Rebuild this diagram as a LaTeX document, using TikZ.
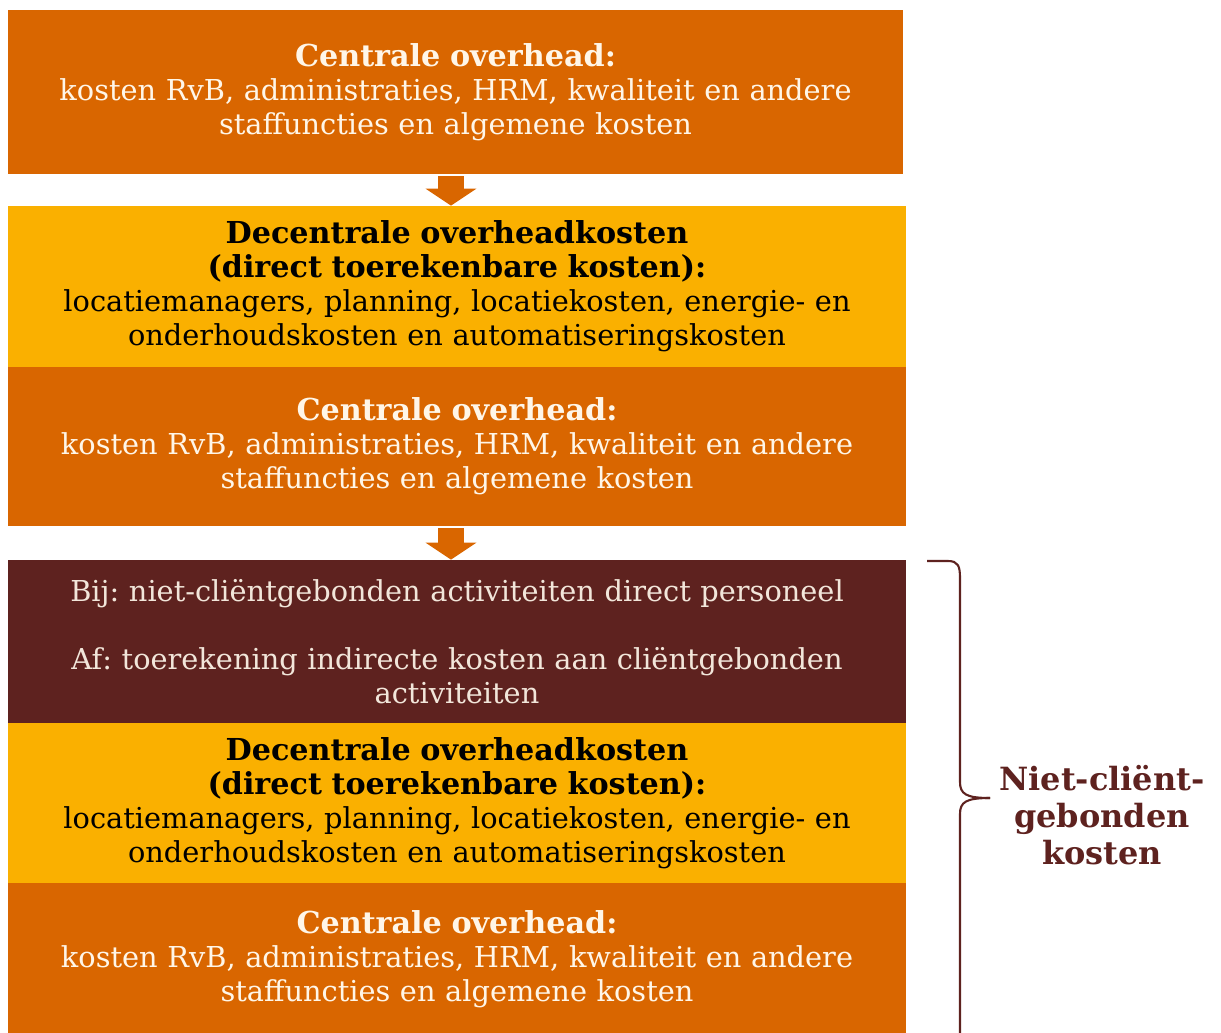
\documentclass[tikz,border=0pt]{standalone}
\usepackage{fontspec}
\setmainfont{DejaVu Serif}
\usepackage{tikz}
\usetikzlibrary{arrows.meta}
\definecolor{ovorange}{RGB}{217,102,0}
\definecolor{ovyellow}{RGB}{250,176,0}
\definecolor{ovbrown}{RGB}{94,34,31}
\definecolor{ovcream}{RGB}{255,246,232}
\definecolor{ovpink}{RGB}{242,230,218}
\newcommand{\headtxt}[1]{{\fontsize{17.2}{19.4}\bfseries #1}}
\frenchspacing

\begin{document}
\begin{tikzpicture}[x=0.02cm, y=-0.02cm,
  costbox/.style={inner sep=0pt, minimum width=17.96cm, text width=17.8cm,
    align=center, font=\fontsize{16.4}{19.4}\selectfont},
  centralbox/.style={costbox, fill=ovorange, text=ovcream},
  decentralbox/.style={costbox, fill=ovyellow, text=black},
  extrabox/.style={costbox, fill=ovbrown, text=ovpink},
  flowarr/.style={draw=ovorange, line width=0.52cm, shorten <=0.04cm,
    -{Triangle[length=0.34cm, width=1cm]}},
  bracepen/.style={draw=ovbrown, line width=1.2pt}]
\useasboundingbox (0,0) rectangle (1221,1032);
% Nodes
\node[centralbox, minimum width=17.9cm, minimum height=3.28cm] (c1) at (455.5,92)
  {\headtxt{Centrale overhead:}\\kosten RvB, administraties, HRM, kwaliteit en andere\\staffuncties en algemene kosten};
\node[decentralbox, minimum height=3.22cm] (d2) at (457,286.5)
  {\headtxt{Decentrale overheadkosten}\\\headtxt{(direct toerekenbare kosten):}\\locatiemanagers, planning, locatiekosten, energie- en\\onderhoudskosten en automatiseringskosten};
\node[centralbox, minimum height=3.18cm] (c2) at (457,446.5)
  {\headtxt{Centrale overhead:}\\kosten RvB, administraties, HRM, kwaliteit en andere\\staffuncties en algemene kosten};
\node[extrabox, minimum height=3.26cm] (x3) at (457,641.5)
  {Bij: niet-cliëntgebonden activiteiten direct personeel\\[19.4pt]Af: toerekening indirecte kosten aan cliëntgebonden\\activiteiten};
\node[decentralbox, minimum height=3.2cm] (d3) at (457,803)
  {\headtxt{Decentrale overheadkosten}\\\headtxt{(direct toerekenbare kosten):}\\locatiemanagers, planning, locatiekosten, energie- en\\onderhoudskosten en automatiseringskosten};
\node[centralbox, minimum height=3.04cm] (c3) at (457,959)
  {\headtxt{Centrale overhead:}\\kosten RvB, administraties, HRM, kwaliteit en andere\\staffuncties en algemene kosten};
\node[text=ovbrown, align=center, font=\bfseries\fontsize{18.2}{21}\selectfont] (ncg) at (1102,815)
  {Niet-cliënt-\\gebonden\\kosten};
% Arrows
\draw[flowarr] (c1.south -| 451,0) -- (d2.north -| 451,0);
\draw[flowarr] (c2.south -| 451,0) -- (x3.north -| 451,0);
% Brace
\coordinate (brtop) at (927,561);
\coordinate (brtip) at (990,798);
\coordinate (brbot) at (960,1045);
\draw[bracepen] (brtop) -- (948,561) .. controls (958,561) and (960,566) .. (960,578)
  -- (960,782) .. controls (960,794) and (966,798) .. (brtip);
\draw[bracepen] (brbot) -- (960,814) .. controls (960,802) and (966,798) .. (brtip);
\end{tikzpicture}
\end{document}
